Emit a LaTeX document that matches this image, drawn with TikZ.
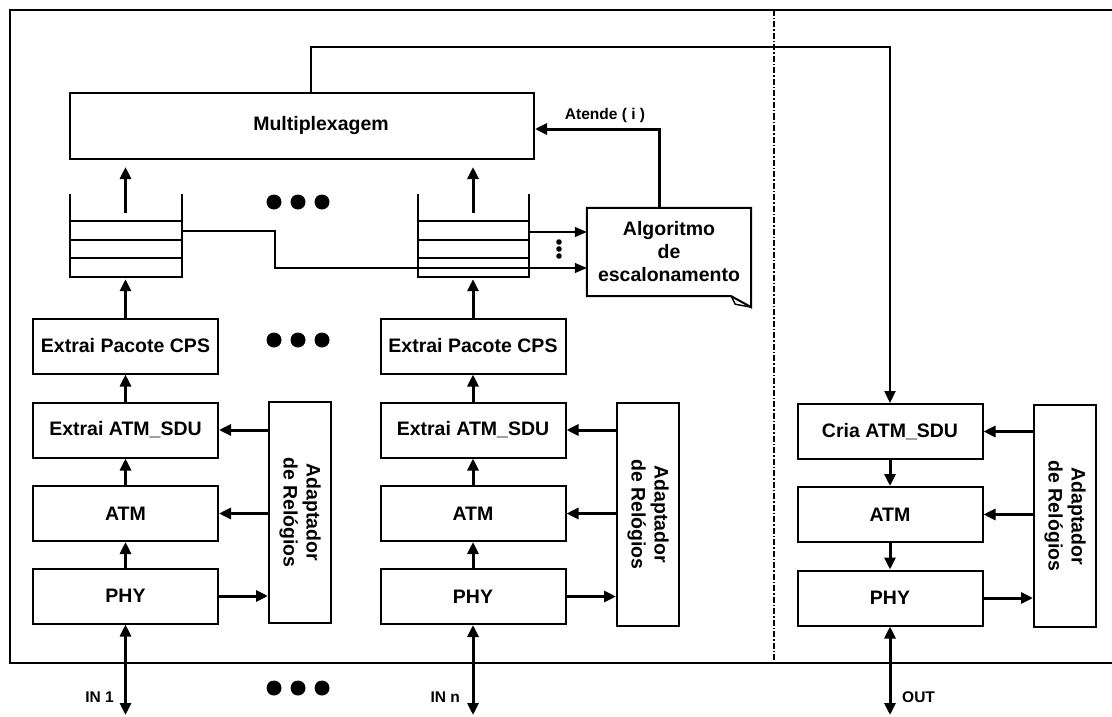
\documentclass[tikz,border=0pt]{standalone}
\usepackage{fontspec}
\setmainfont{Liberation Sans}
\usetikzlibrary{arrows.meta}
\tikzset{
  box/.style={draw, line width=2pt, inner sep=0pt, minimum width=185pt, minimum height=55pt,
    font=\fontsize{19.5}{23}\selectfont\bfseries, align=center},
  adapt/.style={draw, line width=2pt, inner sep=0pt, minimum width=62pt, minimum height=221pt},
  adtext/.style={rotate=-90, align=center, font=\fontsize{19.5}{23}\selectfont\bfseries},
  arr/.style={line width=3pt, -{Triangle[length=12pt,width=11pt]}},
  dblarr/.style={line width=3pt, {Triangle[length=12pt,width=11pt]}-{Triangle[length=12pt,width=11pt]}},
  thinarr/.style={line width=1.2pt, -{Triangle[length=12pt,width=10pt]}},
  qline/.style={line width=2pt},
  small/.style={font=\fontsize{15.5}{18}\selectfont\bfseries, inner sep=0pt},
}
\begin{document}
\begin{tikzpicture}[x=1pt,y=-1pt]
\clip (0,0) rectangle (1112,717);
% outer frame (right side beyond the picture)
\draw[line width=2pt] (1130,10) -- (10,10) -- (10,663) -- (1130,663);
% dash-dot separator
\draw[line width=1.5pt, dash pattern=on 6pt off 2pt on 1.5pt off 2pt] (774,10) -- (774,663);

% Multiplexagem
\node[box, minimum width=464pt, minimum height=66pt] (mux) at (302,126) {\hspace*{38pt}Multiplexagem};

% queues
\node[inner sep=0pt, minimum width=112pt, minimum height=83pt] (q1) at (126,235.5) {};
\node[inner sep=0pt, minimum width=111pt, minimum height=83pt] (q2) at (473.5,235.5) {};
\foreach \q in {q1,q2}{
  \draw[qline] (\q.north west) -- (\q.south west) -- (\q.south east) -- (\q.north east);
  \foreach \y in {221,240,258}
    \draw[qline] (\q.west |- 0,\y) -- (\q.east |- 0,\y);
}

% Algoritmo de escalonamento (note shape)
\node[align=center, inner sep=0pt, minimum width=164pt, minimum height=88pt,
  font=\fontsize{19.5}{23}\selectfont\bfseries] (alg) at (669,252) {Algoritmo\\de\\escalonamento};
\draw[line width=2pt, line join=miter] (alg.north west) -- (alg.north east) -- ([yshift=-11pt]alg.south east)
  -- ([xshift=-20pt]alg.south east) -- (alg.south west) -- cycle;
\draw[line width=1.4pt] ([xshift=-20pt]alg.south east) -- ([xshift=-16pt,yshift=-8pt]alg.south east) -- ([yshift=-11pt]alg.south east);

% left stack
\node[box] (cps1) at (125.5,346) {Extrai Pacote CPS};
\node[box] (sdu1) at (125.5,430) {Extrai ATM\_SDU};
\node[box] (atm1) at (125.5,513.5) {ATM};
\node[box] (phy1) at (125.5,596) {PHY};
\node[adapt] (ad1) at (300,512.5) {};
\node[adtext] (ad1t) at (ad1) {Adaptador\\de Relógios};

% middle stack
\node[box] (cps2) at (473,346) {Extrai Pacote CPS};
\node[box] (sdu2) at (473,430) {Extrai ATM\_SDU};
\node[box] (atm2) at (473,513.5) {ATM};
\node[box] (phy2) at (473,596.5) {PHY};
\node[adapt, minimum height=223pt] (ad2) at (648,514.5) {};
\node[adtext] (ad2t) at (ad2) {Adaptador\\de Relógios};

% right stack
\node[box] (cria) at (890,431.5) {Cria ATM\_SDU};
\node[box] (atm3) at (890,514.5) {ATM};
\node[box] (phy3) at (890,598) {PHY};
\node[adapt, minimum height=222pt] (ad3) at (1065,516) {};
\node[adtext] (ad3t) at (ad3) {Adaptador\\de Relógios};

% upward arrows in the input stacks
\foreach \s in {1,2}{
  \draw[arr] (phy\s.north) -- (atm\s.south);
  \draw[arr] (atm\s.north) -- (sdu\s.south);
  \draw[arr] (sdu\s.north) -- (cps\s.south);
  \draw[arr] (cps\s.north) -- ([yshift=-2pt]q\s.south -| cps\s.north);
  \draw[arr] ([yshift=-19pt]q\s.north -| cps\s.north) -- ([yshift=-7pt]mux.south -| cps\s.north);
  \draw[arr] (ad\s.west |- sdu\s.east) -- (sdu\s.east);
  \draw[arr] (ad\s.west |- atm\s.east) -- (atm\s.east);
  \draw[arr] (phy\s.east) -- (ad\s.west |- phy\s.east);
}
% output stack arrows
\draw[arr] (cria.south) -- (atm3.north);
\draw[arr] (atm3.south) -- (phy3.north);
\draw[arr] (ad3.west |- cria.east) -- (cria.east);
\draw[arr] (ad3.west |- atm3.east) -- (atm3.east);
\draw[arr] (phy3.east) -- (ad3.west |- phy3.east);

% feedback from Multiplexagem to Cria ATM_SDU
\draw[line width=2.2pt, -{Triangle[length=12pt,width=11pt]}] (mux.north -| 311,0) -- (311,47) -- (cria.north |- 0,47) -- (cria.north);

% Atende ( i )
\draw[arr] (alg.north -| 659,0) -- (659,129) -- (mux.east |- 0,129);
\node[small] (atende) at (605,115) {Atende ( i )};

% queue lines to the scheduler
\draw[thinarr] (q1.east |- 0,231) -- (275,231) -- (275,268) -- (alg.west |- 0,268);
\draw[thinarr] (q2.east |- 0,232) -- (alg.west |- 0,232);
\foreach \y in {242,249,256} \fill (559,\y) circle (2.8pt);

% ellipsis dots
\foreach \y in {202,340,688}
  \foreach \x in {274,298,322} \fill (\x,\y) circle (7.5pt);

% external ports
\coordinate (in1) at (125.5,715);
\coordinate (inn) at (473,715);
\coordinate (out) at (890,715);
\draw[dblarr] (phy1.south) -- (in1);
\draw[dblarr] (phy2.south) -- (inn);
\draw[dblarr] (phy3.south) -- (out);
\node[small, anchor=east] (lin1) at (114,697) {IN 1};
\node[small, anchor=east] (linn) at (460,697) {IN n};
\node[small, anchor=west] (lout) at (902,697) {OUT};
\end{tikzpicture}
\end{document}
